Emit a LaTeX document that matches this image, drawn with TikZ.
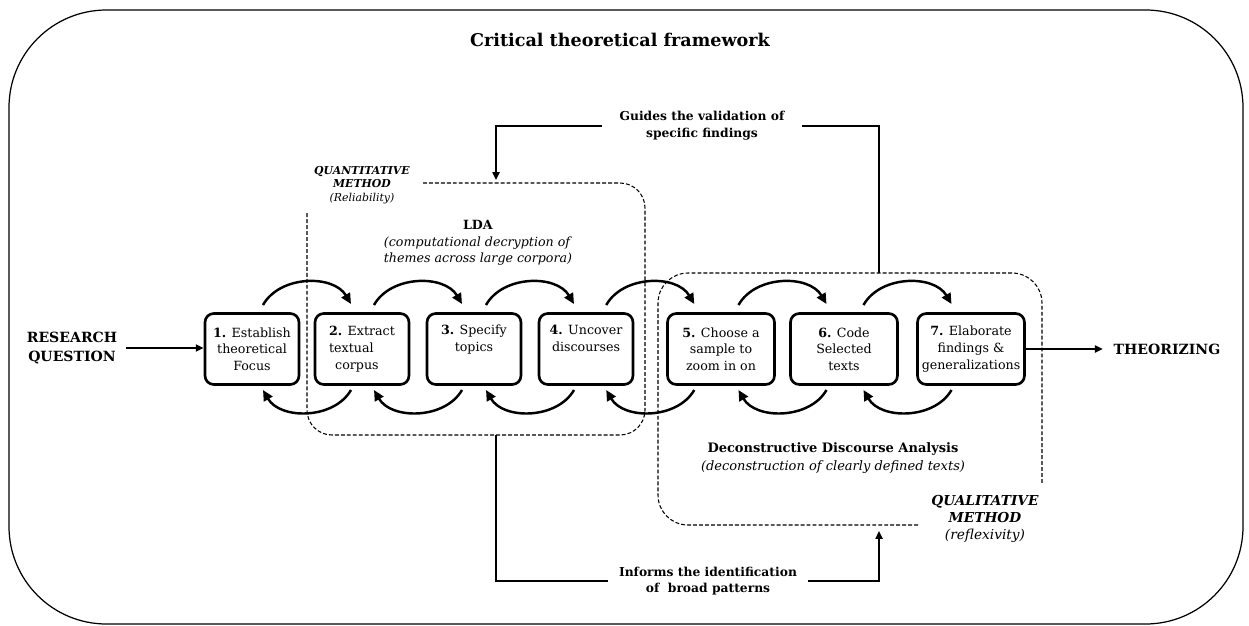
\documentclass[tikz,border=0pt]{standalone}
\usepackage{fontspec}
\setmainfont{DejaVu Serif}
\usetikzlibrary{arrows.meta,calc}

\begin{document}
\begin{tikzpicture} %research design
		[x=0.02cm,y=0.02cm,
		 frame/.style={line width=0.7pt,rounded corners=1.95cm},
		 stage/.style={draw,line width=1.5pt,rounded corners=5pt,minimum width=1.88cm,
		               minimum height=1.42cm,inner sep=1pt,align=center,
		               font=\fontsize{7.2}{9.5}\selectfont},
		 widestage/.style={stage,minimum width=2.14cm},
		 region/.style={dashed,line width=0.6pt,dash pattern=on 2.2pt off 1.2pt},
		 conn/.style={line width=1.1pt},
		 tip/.style={-{Triangle[length=4.5pt,width=4pt]}},
		 cyc/.style={line width=1.4pt,-{Triangle[length=6pt,width=5.5pt]}},
		 label/.style={align=center,font=\fontsize{7}{9.5}\selectfont}]
	\useasboundingbox (0,0) rectangle (1249,-626);
	%outer frame and title
	\draw[frame] (9,-10) rectangle (1243,-624);
	\node[font=\fontsize{10}{12}\selectfont\bfseries] (title) at (620,-40) {Critical theoretical framework};

	%the two method regions
	\draw[region,rounded corners=0.5cm] (423,-183) -- (645,-183) -- (645,-435) -- (307,-435) -- (307,-212);
	\draw[region,rounded corners=0.6cm] (918,-525) -- (658,-525) -- (658,-273) -- (1042,-273) -- (1042,-485);
	\node[align=center,font=\fontsize{6.2}{7.5}\selectfont] (quantlbl) at (362,-185)
		{\textbf{\textit{QUANTITATIVE}}\\\textbf{\textit{METHOD}}\\\textit{(Reliability)}};
	\node[align=center,font=\fontsize{7.8}{9.6}\selectfont] (quallbl) at (985,-519)
		{\textbf{\textit{QUALITATIVE}}\\\textbf{\textit{METHOD}}\\\textit{(reflexivity)}};
	\node[label,font=\fontsize{7.2}{9.5}\selectfont] (lda) at (478,-243)
		{\textbf{LDA}\\\textit{(computational decryption of}\\\textit{themes across large corpora)}};
	\node[label,font=\fontsize{7.4}{10}\selectfont] (dda) at (833,-458)
		{\textbf{Deconstructive Discourse Analysis}\\\textit{(deconstruction of clearly defined texts)}};

	%the seven steps
	\node[stage] (b1) at (252,-349) {\textbf{1.} Establish\\theoretical\\Focus};
	\node[stage,align=left] (b2) at (362,-349) {\textbf{2.} Extract\\textual\\\ \,corpus};
	\node[stage] (b3) at (474,-349) {\textbf{3.} Specify\\topics\\[3pt]};
	\node[stage] (b4) at (586,-349) {\textbf{4.} Uncover\\discourses\\[3pt]};
	\node[widestage] (b5) at (721,-349) {\textbf{5.} Choose a\\sample to\\zoom in on};
	\node[widestage] (b6) at (844,-349) {\textbf{6.} Code\\Selected\\texts};
	\node[widestage] (b7) at (971,-349) {\textbf{7.} Elaborate\\findings \&\\generalizations};

	%forward and backward loops between the steps
	\foreach \a/\b in {b1/b2,b2/b3,b3/b4,b4/b5,b5/b6,b6/b7}{
		\draw[cyc] ($(\a.east)!.5!(\b.west)+(-44,44)$) to[bend left=60] ($(\a.east)!.5!(\b.west)+(44,45)$);
		\draw[cyc] ($(\a.east)!.5!(\b.west)+(44,-41)$) to[bend left=60] ($(\a.east)!.5!(\b.west)+(-44,-41)$);
	}

	%input and output
	\node[label,font=\fontsize{8}{10.5}\selectfont\bfseries,inner sep=5pt] (rq) at (72,-348) {RESEARCH\\QUESTION};
	\node[font=\fontsize{8}{10}\selectfont\bfseries,inner xsep=6pt] (theo) at (1167,-349) {THEORIZING};
	\draw[conn,tip] (rq.east) -- (rq.east -| b1.west);
	\draw[conn,tip] (b7.east) -- (theo.west);

	%feedback between the methods
	\coordinate (qtop) at (496,-180);
	\coordinate (qbot) at (496,-435);
	\coordinate (qltop) at (879,-273);
	\coordinate (qlbot) at (879,-531);
	\node[label,font=\fontsize{7}{9.5}\selectfont\bfseries,inner xsep=10pt] (guides) at (702,-126)
		{Guides the validation of\\specific findings};
	\node[label,font=\fontsize{7}{9.5}\selectfont\bfseries,inner xsep=6pt] (informs) at (708,-581)
		{Informs the identification\\of\ \ broad patterns};
	\draw[conn,tip] (guides.west) -| (qtop);
	\draw[conn] (guides.east) -| (qltop);
	\draw[conn] (qbot) |- (informs.west);
	\draw[conn,tip] (informs.east) -| (qlbot);
\end{tikzpicture}
\end{document}
